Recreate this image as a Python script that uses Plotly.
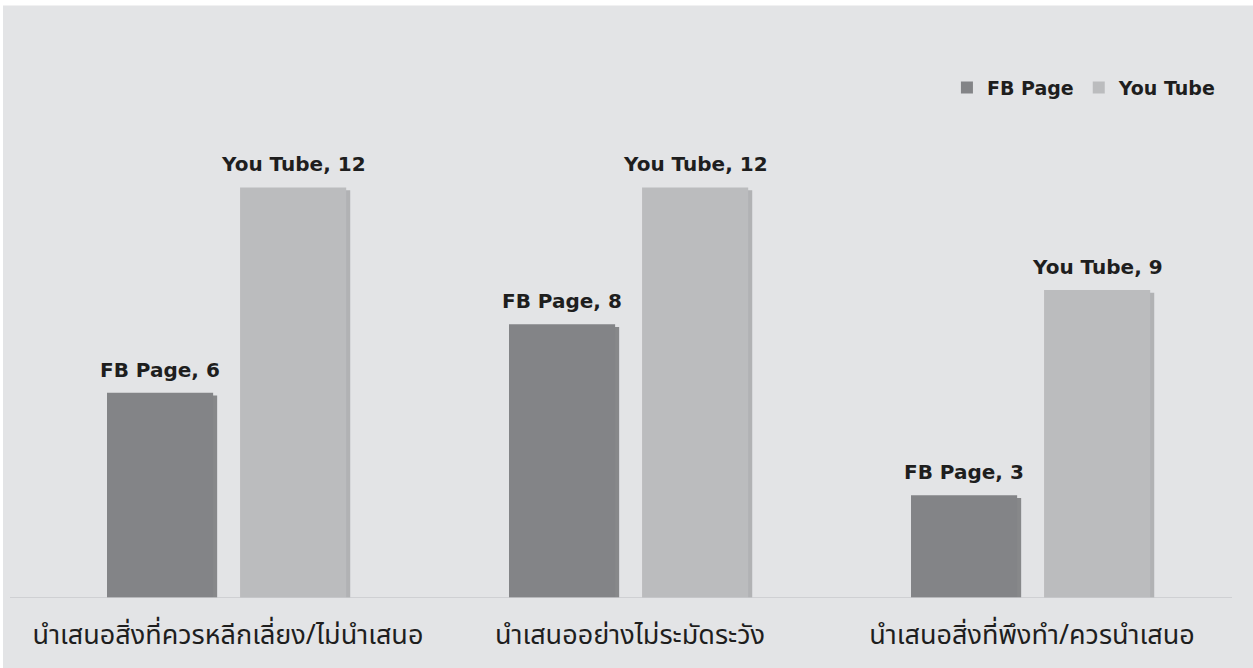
import plotly.graph_objects as go

categories = ["นำเสนอสิ่งที่ควรหลีกเลี่ยง/ไม่นำเสนอ", "นำเสนออย่างไม่ระมัดระวัง", "นำเสนอสิ่งที่พึงทำ/ควรนำเสนอ"]
fb_values = [6, 8, 3]
yt_values = [12, 12, 9]
series_names = ["FB Page", "You Tube"]

W, H = 1253, 668
plot_l, plot_r = 27, 1233
base_y, top_y = 598, 118.5
y_max = 14

fb_color = "#838487"
yt_color = "#bbbcbe"
bg = "#e3e4e6"

bar_w = 0.264
fb_off = -0.301
yt_off = 0.030
sh_dx = 0.010

fig = go.Figure()

# shadows
for vals, off, col in [(fb_values, fb_off, "#6f7073"), (yt_values, yt_off, "#a4a5a8")]:
    fig.add_trace(go.Bar(
        x=categories, y=[v - 0.08 for v in vals], width=bar_w, offset=off + sh_dx,
        marker=dict(color=col, line=dict(width=0)), showlegend=False, hoverinfo="skip",
        opacity=0.8,
    ))

annotations = []
for name, vals, off, col in [(series_names[0], fb_values, fb_off, fb_color),
                              (series_names[1], yt_values, yt_off, yt_color)]:
    fig.add_trace(go.Bar(
        name=name, x=categories, y=vals, width=bar_w, offset=off,
        marker=dict(color=col, line=dict(width=0)),
    ))
    for i, v in enumerate(vals):
        annotations.append(dict(
            x=i + off + bar_w / 2, y=v, xref="x", yref="y",
            text=f"{name}, {v}", showarrow=False, yanchor="bottom", yshift=9,
            font=dict(family="DejaVu Sans", size=20, color="#1e1e1e", weight="bold"),
        ))

px_to_paper_x = lambda px: (px - plot_l) / (plot_r - plot_l)
px_to_paper_y = lambda py: (base_y - py) / (base_y - top_y)

shapes = [
    dict(type="rect", xref="paper", yref="paper",
         x0=px_to_paper_x(3), x1=px_to_paper_x(W + 5),
         y0=px_to_paper_y(H + 5), y1=px_to_paper_y(5),
         fillcolor=bg, line=dict(width=0), layer="below"),
    dict(type="line", xref="paper", yref="y",
         x0=px_to_paper_x(10), x1=px_to_paper_x(1232), y0=0, y1=0,
         line=dict(color="#c9cacc", width=1.5), layer="above"),
]

fig.update_layout(
    width=W, height=H,
    margin=dict(l=plot_l, r=W - plot_r, t=top_y, b=H - base_y),
    paper_bgcolor="white", plot_bgcolor=bg,
    barmode="overlay",
    shapes=shapes,
    annotations=annotations,
    showlegend=True,
    legend=dict(orientation="h", x=0.99, xanchor="right", y=px_to_paper_y(87), yanchor="middle",
                font=dict(family="DejaVu Sans", size=19, color="#1e1e1e", weight="bold"),
                bgcolor="rgba(0,0,0,0)", traceorder="normal", itemwidth=30),
    xaxis=dict(showgrid=False, zeroline=False, showline=False, ticks="",
               tickfont=dict(family="Noto Sans Thai, Tahoma, DejaVu Sans, sans-serif", size=27, color="#1e1e1e"),
               ticklabelstandoff=18, range=[-0.5, 2.5]),
    yaxis=dict(range=[0, y_max], showgrid=False, zeroline=False, showline=False,
               showticklabels=False, ticks=""),
)

fig.write_html("out.html", config={"displayModeBar": False},
               post_script="document.body.style.margin='0';document.body.style.overflow='hidden';")
